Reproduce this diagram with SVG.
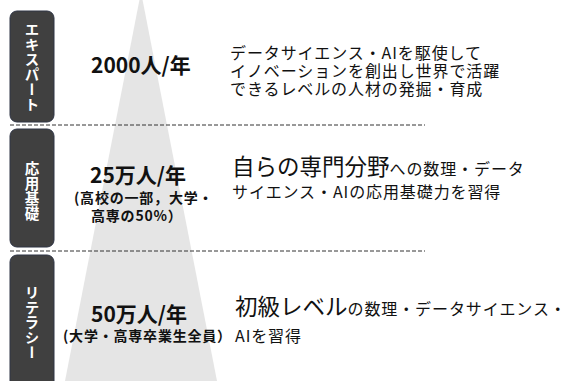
<svg xmlns="http://www.w3.org/2000/svg" width="567" height="381" viewBox="0 0 567 381">
<style>
.box{fill:#404040;stroke:#2e3445;stroke-width:1}
.vl{fill:#fff;font-family:"Noto Sans CJK JP","Noto Sans",sans-serif;font-size:14.5px;font-weight:bold;writing-mode:vertical-rl;text-orientation:upright;letter-spacing:0.5px}
.num{font-family:"Noto Sans CJK JP","Noto Sans",sans-serif;font-weight:bold;font-size:21px;fill:#111}
.sub{font-family:"Noto Sans CJK JP","Noto Sans",sans-serif;font-weight:bold;font-size:14px;letter-spacing:0.8px;fill:#111}
.desc{font-family:"Noto Sans CJK JP","Noto Sans",sans-serif;font-size:16px;letter-spacing:0.9px;fill:#111}
.big{font-size:22.5px;letter-spacing:0}
.dash{stroke:#333;stroke-width:1;stroke-dasharray:4 2;fill:none}
</style>
<rect width="567" height="381" fill="#fff"/>
<polygon points="141,-8 65,381 217,381" fill="#e5e5e5"/>
<g id="connectors">
<line class="dash" x1="10" y1="125" x2="425" y2="125"/>
<line class="dash" x1="10" y1="251" x2="425" y2="251"/>
</g>
<g id="expert">
<rect class="box" x="10" y="11" width="44" height="111" rx="7"/>
<text class="vl" x="32" y="22">エキスパート</text>
<text class="num" x="91" y="73">2000人/年</text>
<text class="desc" x="230" y="59">データサイエンス・AIを駆使して</text>
<text class="desc" x="230" y="77">イノベーションを創出し世界で活躍</text>
<text class="desc" x="230" y="95">できるレベルの人材の発掘・育成</text>
</g>
<g id="applied">
<rect class="box" x="10" y="129" width="44" height="118" rx="7"/>
<text class="vl" x="32" y="161">応用基礎</text>
<text class="num" x="90" y="183">25万人/年</text>
<text class="sub" x="74" y="203">(高校の一部，大学・</text>
<text class="sub" x="91" y="221">高専の50%）</text>
<text class="desc" x="232" y="175"><tspan class="big">自らの専門分野</tspan>への数理・データ</text>
<text class="desc" x="232" y="198">サイエンス・AIの応用基礎力を習得</text>
</g>
<g id="literacy">
<rect class="box" x="10" y="255" width="44" height="134" rx="7"/>
<text class="vl" x="32" y="285">リテラシー</text>
<text class="num" x="91" y="322">50万人/年</text>
<text class="sub" x="63" y="341">(大学・高専卒業生全員）</text>
<text class="desc" x="235" y="315"><tspan class="big">初級レベル</tspan>の数理・データサイエンス・</text>
<text class="desc" x="235" y="342">AIを習得</text>
</g>
</svg>
